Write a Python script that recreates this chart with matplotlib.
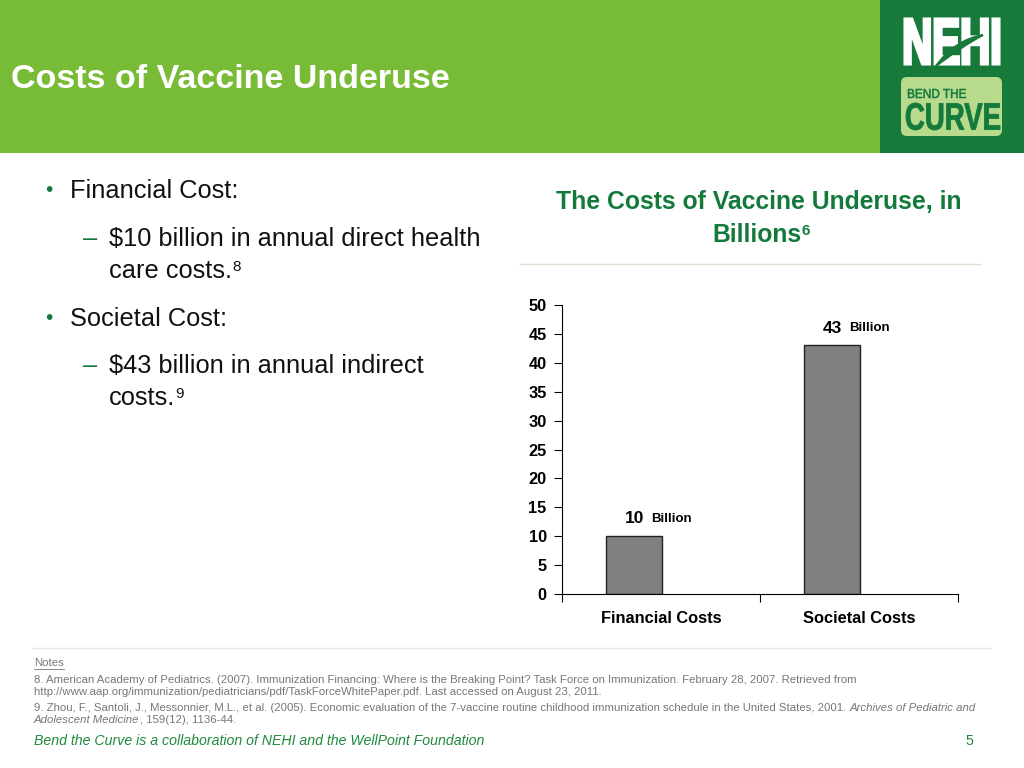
import matplotlib
matplotlib.use("Agg")
import matplotlib.pyplot as plt
from matplotlib.patches import Rectangle, FancyBboxPatch, PathPatch
from matplotlib.path import Path
from matplotlib.textpath import TextPath
from matplotlib.font_manager import FontProperties
from matplotlib.transforms import Affine2D

plt.rcParams['font.family'] = ['Liberation Sans', 'DejaVu Sans']

# data
categories = ['Financial Costs', 'Societal Costs']
values = [10, 43]
value_labels = ['10', '43']
yticks = [0, 5, 10, 15, 20, 25, 30, 35, 40, 45, 50]

GREEN = '#77bb36'
DARK = '#137a3c'
LOGO_BG = '#187a3a'
GRAY_TXT = '#777777'

W, H = 1024, 768
fig = plt.figure(figsize=(W / 100, H / 100), dpi=100)

# background axes in pixel coordinates (y down)
bg = fig.add_axes([0, 0, 1, 1], zorder=0)
bg.set_xlim(0, W)
bg.set_ylim(H, 0)
bg.axis('off')


def fit_text(s, x0, y0, x1, y1, color, weight='bold', stroke=0):
    # squeeze a text path into a pixel box (for the logo lettering)
    tp = TextPath((0, 0), s, size=10, prop=FontProperties(family='Liberation Sans', weight=weight))
    ext = tp.get_extents()
    tr = (Affine2D().translate(-ext.x0, -ext.y0)
          .scale((x1 - x0) / ext.width, -(y1 - y0) / ext.height)
          .translate(x0, y1))
    bg.add_patch(PathPatch(tr.transform_path(tp), facecolor=color, edgecolor=color,
                           lw=stroke, joinstyle='miter'))


# header band + logo block
bg.add_patch(Rectangle((0, 0), 880, 153, color=GREEN, lw=0))
bg.add_patch(Rectangle((880, 0), 144, 153, color=LOGO_BG, lw=0))
bg.add_patch(FancyBboxPatch((901, 77), 101, 59, boxstyle='round,pad=0,rounding_size=6',
                            color='#b7da8c', lw=0))
fit_text('NEHI', 905, 19, 999, 64, 'white', stroke=2.2)
# swoosh through the E and H
leaf = Path([(936, 66), (955, 40), (983, 35), (962, 46), (936, 66)],
            [Path.MOVETO, Path.CURVE3, Path.LINETO, Path.CURVE3, Path.LINETO])
bg.add_patch(PathPatch(leaf, facecolor=LOGO_BG, edgecolor=LOGO_BG, lw=1.5))
fit_text('BEND THE', 908, 89, 966, 98, DARK, weight='normal', stroke=0.4)
fit_text('CURVE', 906, 103, 1000, 130, DARK, stroke=0.6)

bg.text(11, 79, 'Costs of Vaccine Underuse', color='white', fontsize=24.5,
        fontweight='bold', va='center', ha='left')

# bullet text on the left
BODY = 18.3


def line(x, y, s, sup=None):
    t = bg.text(x, y, s, fontsize=BODY, color='#111111', va='center', ha='left')
    if sup:
        bg.annotate(sup, xy=(1, 0.95), xycoords=t, xytext=(0, 0), textcoords='offset points',
                    fontsize=BODY * 0.6, color='#111111', va='top', ha='left')
    return t


bg.text(49, 190, '•', fontsize=15, color=DARK, va='center', ha='center')
line(70, 191, 'Financial Cost:')
bg.text(90, 239, '–', fontsize=BODY, color=DARK, va='center', ha='center')
line(109, 239, '$10 billion in annual direct health')
line(109, 271, 'care costs.', '8')
bg.text(49, 318, '•', fontsize=15, color=DARK, va='center', ha='center')
line(70, 319, 'Societal Cost:')
bg.text(90, 366, '–', fontsize=BODY, color=DARK, va='center', ha='center')
line(109, 366, '$43 billion in annual indirect')
line(109, 398, 'costs.', '9')

# chart title
bg.text(759, 202, 'The Costs of Vaccine Underuse, in', fontsize=17.8, color=DARK,
        fontweight='bold', va='center', ha='center')
tb = bg.text(757, 235, 'Billions', fontsize=17.8, color=DARK,
             fontweight='bold', va='center', ha='center')
bg.annotate('6', xy=(1, 0.95), xycoords=tb, xytext=(0, 0), textcoords='offset points',
            fontsize=11, color=DARK, fontweight='bold', va='top', ha='left')
bg.plot([520, 980], [264, 264], color='#d5e3cf', lw=1)

# bar chart
ax = fig.add_axes([562 / W, 1 - 594 / H, 396 / W, (594 - 305) / H], zorder=2)
xs = [i - 0.136 for i in range(len(categories))]
ax.bar(xs, values, width=0.283, color='#808080', edgecolor='#222222', linewidth=1)
ax.set_xlim(-0.5, len(categories) - 0.5)
ax.set_ylim(0, 50)
ax.set_yticks(yticks)
ax.set_yticklabels([str(v) for v in yticks], fontsize=11.8, fontweight='bold')
ax.set_xticks([-0.5, 0.5, 1.5])
ax.set_xticklabels([])
ax.tick_params(axis='y', direction='out', length=6, width=0.8, pad=5)
ax.tick_params(axis='x', direction='out', length=6, width=0.8)
for i, c in enumerate(categories):
    ax.text(i, -3.0, c, fontsize=11.8, fontweight='bold', ha='center', va='top')
for x, v, s in zip(xs, values, value_labels):
    t = ax.annotate(s, xy=(x, v), xytext=(0, 7), textcoords='offset points',
                    fontsize=12.5, fontweight='bold', ha='center', va='bottom')
    ax.annotate('Billion', xy=(1, 0.12), xycoords=t, xytext=(5, 0), textcoords='offset points',
                fontsize=9.5, fontweight='bold', ha='left', va='bottom')
for side in ['top', 'right']:
    ax.spines[side].set_visible(False)
ax.spines['left'].set_linewidth(0.8)
ax.spines['bottom'].set_linewidth(0.8)
ax.patch.set_alpha(0)

# notes
NOTE = 8.2
bg.plot([33, 990], [648, 648], color='#e3e8e0', lw=1)
bg.text(34, 663, 'Notes', fontsize=NOTE, color=GRAY_TXT, va='center', ha='left')
bg.plot([34, 64], [669, 669], color=GRAY_TXT, lw=0.6)
bg.text(34, 680, '8. American Academy of Pediatrics. (2007). Immunization Financing: Where is the Breaking Point? Task Force on Immunization. February 28, 2007. Retrieved from',
        fontsize=NOTE, color=GRAY_TXT, va='center', ha='left')
bg.text(34, 692, 'http://www.aap.org/immunization/pediatricians/pdf/TaskForceWhitePaper.pdf. Last accessed on August 23, 2011.',
        fontsize=NOTE, color=GRAY_TXT, va='center', ha='left')
t9 = bg.text(34, 708, '9. Zhou, F., Santoli, J., Messonnier, M.L., et al. (2005). Economic evaluation of the 7-vaccine routine childhood immunization schedule in the United States, 2001. ',
             fontsize=NOTE, color=GRAY_TXT, va='center', ha='left')
bg.annotate('Archives of Pediatric and', xy=(1, 0.5), xycoords=t9, fontsize=NOTE, color=GRAY_TXT,
            style='italic', va='center', ha='left')
t10 = bg.text(34, 720, 'Adolescent Medicine', fontsize=NOTE, color=GRAY_TXT,
              style='italic', va='center', ha='left')
bg.annotate(', 159(12), 1136-44.', xy=(1, 0.5), xycoords=t10, fontsize=NOTE, color=GRAY_TXT,
            va='center', ha='left')

bg.text(34, 741, 'Bend the Curve is a collaboration of NEHI and the WellPoint Foundation',
        fontsize=10.2, color='#1f8a3c', style='italic', va='center', ha='left')
bg.text(973, 741, '5', fontsize=10.2, color='#1f8a3c', va='center', ha='right')

fig.savefig('out.png', dpi=100)
